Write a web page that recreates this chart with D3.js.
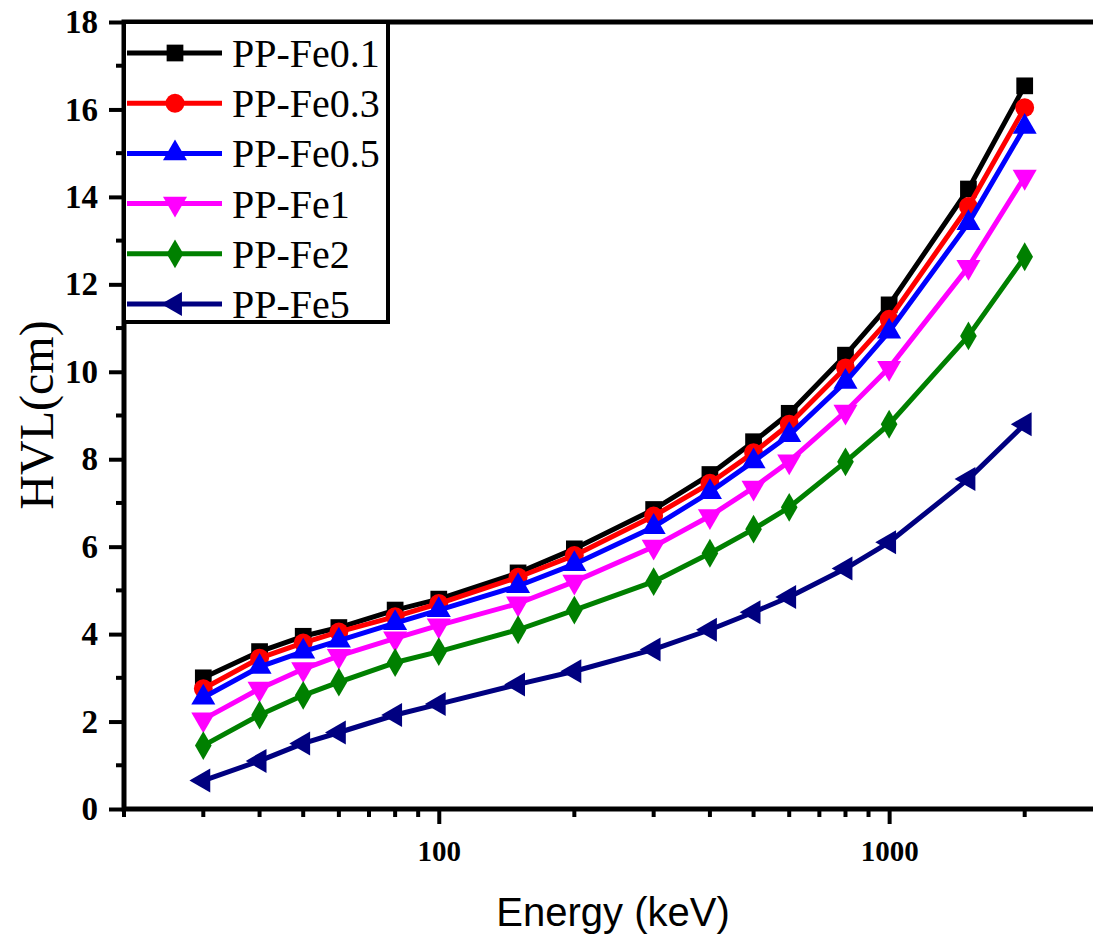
<!DOCTYPE html>
<html>
<head>
<meta charset="utf-8">
<script src="https://cdn.jsdelivr.net/npm/d3@7"></script>
<style>
  body { margin: 0; background: #fff; }
  svg { display: block; }
</style>
</head>
<body>
<div id="chart"></div>
<script>
// energies (keV) and HVL values (cm)
let energy = [30, 40, 50, 60, 80, 100, 150, 200, 300, 400, 500, 600, 800, 1000, 1500, 2000];

let fe01 = [3.0, 3.6, 3.95, 4.15, 4.55, 4.8, 5.4, 5.95, 6.85, 7.65, 8.4, 9.05, 10.38, 11.53, 14.18, 16.54];
let fe03 = [2.75, 3.45, 3.8, 4.05, 4.4, 4.7, 5.3, 5.8, 6.7, 7.45, 8.15, 8.8, 10.09, 11.2, 13.78, 16.04];
let fe05 = [2.55, 3.25, 3.6, 3.85, 4.25, 4.55, 5.1, 5.6, 6.45, 7.25, 7.95, 8.55, 9.77, 10.92, 13.4, 15.6];
let fe1  = [2.05, 2.75, 3.2, 3.5, 3.9, 4.2, 4.7, 5.2, 6.0, 6.7, 7.35, 7.95, 9.09, 10.09, 12.4, 14.46];
let fe2  = [1.45, 2.15, 2.6, 2.9, 3.35, 3.6, 4.1, 4.55, 5.2, 5.85, 6.4, 6.9, 7.94, 8.8, 10.82, 12.63];
let fe5  = [0.65, 1.1, 1.5, 1.75, 2.15, 2.4, 2.85, 3.15, 3.65, 4.1, 4.5, 4.85, 5.5, 6.1, 7.55, 8.8];

let seriesNames = ["PP-Fe0.1", "PP-Fe0.3", "PP-Fe0.5", "PP-Fe1", "PP-Fe2", "PP-Fe5"];
let seriesValues = [fe01, fe03, fe05, fe1, fe2, fe5];
let seriesColors = ["#000000", "#ff0000", "#0000ff", "#ff00ff", "#008000", "#000080"];

let yTicks = [0, 2, 4, 6, 8, 10, 12, 14, 16, 18];
let xMajorTicks = [100, 1000];

let w = 1093, h = 936;
let margin = {top: 22, left: 124, bottom: 127};
let plotRight = 1104; // frame runs past the right edge of the picture

let serif = "'Liberation Serif', 'Times New Roman', Times, serif";
let sans = "'Liberation Sans', Arial, Helvetica, sans-serif";

let svg = d3.select("#chart").append("svg")
    .attr("width", w)
    .attr("height", h);

let xScale = d3.scaleLog()
    .domain([20, 3000])
    .range([margin.left, plotRight]);

let yScale = d3.scaleLinear()
    .domain([0, 18])
    .range([h - margin.bottom, margin.top]);

let y0 = yScale(0);

// minor ticks
let xMinor = [];
[10, 100, 1000].forEach(function(dec){
  for (let k = 2; k <= 9; k++) {
    let v = dec * k;
    if (v >= 20 && v <= 3000) xMinor.push(v);
  }
});
let yMinor = d3.range(1, 18, 2);

// x axis (bottom)
let xAxis = d3.axisBottom(xScale)
    .tickValues(xMajorTicks)
    .tickFormat(d3.format("d"))
    .tickSize(15)
    .tickSizeOuter(0)
    .tickPadding(16);

let xAxisGroup = svg.append("g")
    .attr("class", "xaxis")
    .attr("transform", "translate(0," + y0 + ")")
    .call(xAxis);

xAxisGroup.select(".domain").remove();
xAxisGroup.selectAll("line").attr("stroke", "#000").attr("stroke-width", 4);
xAxisGroup.selectAll("text")
    .attr("fill", "#000")
    .style("font-family", serif)
    .style("font-weight", "bold")
    .style("font-size", "29px");

svg.append("g").attr("class", "xminor")
  .selectAll("line").data(xMinor).enter()
  .append("line")
    .attr("x1", d => xScale(d))
    .attr("x2", d => xScale(d))
    .attr("y1", y0)
    .attr("y2", y0 + 8)
    .attr("stroke", "#000")
    .attr("stroke-width", 4);

// y axis (left)
let yAxis = d3.axisLeft(yScale)
    .tickValues(yTicks)
    .tickSize(15)
    .tickSizeOuter(0)
    .tickPadding(11);

let yAxisGroup = svg.append("g")
    .attr("class", "yaxis")
    .attr("transform", "translate(" + margin.left + ",0)")
    .call(yAxis);

yAxisGroup.select(".domain").remove();
yAxisGroup.selectAll("line").attr("stroke", "#000").attr("stroke-width", 4);
yAxisGroup.selectAll("text")
    .attr("fill", "#000")
    .style("font-family", serif)
    .style("font-weight", "bold")
    .style("font-size", "33px");

svg.append("g").attr("class", "yminor")
  .selectAll("line").data(yMinor).enter()
  .append("line")
    .attr("x1", margin.left - 8)
    .attr("x2", margin.left)
    .attr("y1", d => yScale(d))
    .attr("y2", d => yScale(d))
    .attr("stroke", "#000")
    .attr("stroke-width", 4);

// frame
svg.append("rect")
    .attr("x", margin.left)
    .attr("y", margin.top)
    .attr("width", plotRight - margin.left)
    .attr("height", y0 - margin.top)
    .attr("fill", "none")
    .attr("stroke", "#000")
    .attr("stroke-width", 5);

// marker shapes
let symbols = [
  d3.symbol().type(d3.symbolSquare).size(280),
  d3.symbol().type(d3.symbolCircle).size(280),
  d3.symbol().type(d3.symbolTriangle).size(250),
  d3.symbol().type(d3.symbolTriangle).size(250),
  d3.symbol().type(d3.symbolDiamond).size(240),
  d3.symbol().type(d3.symbolTriangle).size(250)
];
let rotations = [0, 0, 0, 180, 0, -90];

let line = d3.line()
    .x(d => xScale(d.e))
    .y(d => yScale(d.v));

let seriesGroup = svg.append("g").attr("class", "series");

seriesValues.forEach(function(vals, i){
  let pts = energy.map((e, j) => ({e: e, v: vals[j]}));
  let g = seriesGroup.append("g");
  g.append("path")
      .datum(pts)
      .attr("fill", "none")
      .attr("stroke", seriesColors[i])
      .attr("stroke-width", 5)
      .attr("stroke-linejoin", "round")
      .attr("d", line);
  g.selectAll("path.dot").data(pts).enter()
    .append("path")
      .attr("class", "dot")
      .attr("d", symbols[i])
      .attr("fill", seriesColors[i])
      .attr("transform", d => "translate(" + xScale(d.e) + "," + yScale(d.v) + ") rotate(" + rotations[i] + ")");
});

// legend
let legend = svg.append("g").attr("class", "legend");
legend.append("rect")
    .attr("x", margin.left)
    .attr("y", margin.top)
    .attr("width", 264)
    .attr("height", 300)
    .attr("fill", "#fff")
    .attr("stroke", "#000")
    .attr("stroke-width", 4);

seriesNames.forEach(function(name, i){
  let ly = 53 + i * 50.2;
  legend.append("line")
      .attr("x1", 127).attr("x2", 222)
      .attr("y1", ly).attr("y2", ly)
      .attr("stroke", seriesColors[i])
      .attr("stroke-width", 5);
  legend.append("path")
      .attr("d", symbols[i])
      .attr("fill", seriesColors[i])
      .attr("transform", "translate(175," + ly + ") rotate(" + rotations[i] + ")");
  legend.append("text")
      .attr("x", 232)
      .attr("y", ly)
      .attr("dy", "0.35em")
      .attr("fill", "#000")
      .style("font-family", serif)
      .style("font-size", "40px")
      .text(name);
});

// axis titles
svg.append("text")
    .attr("x", 613)
    .attr("y", 912)
    .attr("text-anchor", "middle")
    .attr("dy", "0.35em")
    .style("font-family", sans)
    .style("font-size", "40px")
    .text("Energy (keV)");

svg.append("text")
    .attr("transform", "translate(36,415) rotate(-90)")
    .attr("text-anchor", "middle")
    .attr("dy", "0.35em")
    .style("font-family", serif)
    .style("font-size", "48px")
    .text("HVL(cm)");
</script>
</body>
</html>
